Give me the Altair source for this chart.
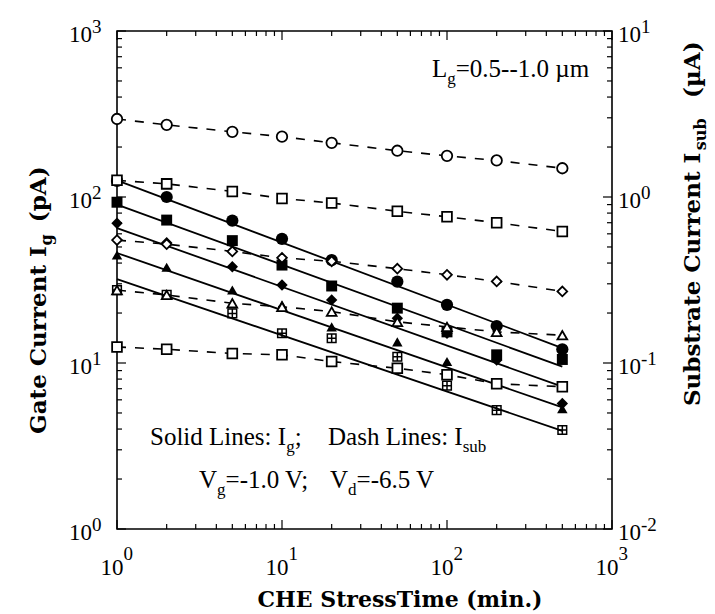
import altair as alt
import pandas as pd

# ---------------- data ----------------
x_min = [1, 2, 5, 10, 20, 50, 100, 200, 500]

# substrate current I_sub (uA), dashed lines with open markers
isub_circle = [2.95, 2.72, 2.47, 2.31, 2.12, 1.90, 1.77, 1.66, 1.49]
isub_square_hi = [1.26, 1.20, 1.08, 0.98, 0.92, 0.82, 0.76, 0.70, 0.62]
isub_diamond = [0.55, 0.52, 0.47, 0.43, 0.41, 0.37, 0.34, 0.31, 0.27]
isub_triangle = [0.275, 0.257, 0.229, 0.218, 0.204, 0.177, 0.165, 0.154, 0.147]
isub_square_lo = [0.125, 0.121, 0.114, 0.112, 0.102, 0.093, 0.085, 0.075, 0.072]

# gate current I_g (pA), solid lines with filled markers
ig_circle = [125, 100, 72, 56, 41.7, 30.9, 22.4, 16.7, 12.1]
ig_square = [93, 72.6, 54.6, 38.9, 29.1, 21.4, 15.4, 11.2, 10.5]
ig_diamond = [69.5, 53, 38, 29.5, 24, 18.6, 15.1, 10.4, 5.7]
ig_triangle = [44.7, 37.7, 27.5, 22.4, 16.5, 13.4, 10.2, 7.5, 5.3]
ig_crossbox = [27.5, 25.7, 19.9, 15.1, 14.1, 10.9, 7.3, 5.2, 3.95]

# fitted solid lines: values at t = 1 min and t = 500 min
fit_x = [1, 500]
fit_circle = [126, 12.3]
fit_square = [90, 9.5]
fit_diamond = [65, 7.2]
fit_triangle = [46, 5.4]
fit_crossbox = [32, 3.9]

# tick labels: "10" with a superscript exponent
x_ticks = [1, 10, 100, 1000]
x_sup = ["0", "1", "2", "3"]
yl_ticks = [1, 10, 100, 1000]
yl_sup = ["0", "1", "2", "3"]
yr_ticks = [0.01, 0.1, 1, 10]
yr_sup = ["-2", "-1", "0", "1"]

# ---------------- layout ----------------
W, H = 495, 498
PX0, PY0 = 117, 31
SERIF = "Liberation Serif"
BOLD = "DejaVu Serif"
LBL = 23      # tick label size
SUP = 19      # superscript size
ANN = 25      # annotation size
ANN_SUB = 17

xscale = alt.Scale(type="log", domain=[1, 1000], nice=False)
ylscale = alt.Scale(type="log", domain=[1, 1000], nice=False)
yrscale = alt.Scale(type="log", domain=[0.01, 10], nice=False)

X = lambda: alt.X("t:Q", scale=xscale, axis=None)
YL = lambda: alt.Y("v:Q", scale=ylscale, axis=None)
YR = lambda: alt.Y("v:Q", scale=yrscale, axis=None)

# ---- solid fitted lines + filled markers (left scale)
fits = [fit_circle, fit_square, fit_diamond, fit_triangle, fit_crossbox]
df_fit = pd.DataFrame([
    {"t": x, "v": v, "s": i}
    for i, f in enumerate(fits) for x, v in zip(fit_x, f)
])
solid = alt.Chart(df_fit).mark_line(color="black", strokeWidth=1.8).encode(
    x=X(), y=YL(), detail="s:N")

g_layers = []
for vals, shp, size in [(ig_circle, "circle", 150), (ig_square, "square", 120),
                        (ig_diamond, "diamond", 130), (ig_triangle, "triangle-up", 110)]:
    d = pd.DataFrame({"t": x_min, "v": vals})
    g_layers.append(alt.Chart(d).mark_point(
        filled=True, color="black", size=size, opacity=1, shape=shp).encode(x=X(), y=YL()))
g_layers.append(alt.Chart(pd.DataFrame({"t": x_min, "v": ig_crossbox})).mark_point(
    filled=False, color="black", strokeWidth=1.5, size=75, opacity=1,
    shape="M-1,-1L1,-1L1,1L-1,1Z M0,-1L0,1 M-1,0L1,0").encode(x=X(), y=YL()))

# ---- inward ticks on all four sides
minor_vals = [m * d for d in [1, 10, 100] for m in range(2, 10)]
major_vals = [1, 10, 100, 1000]
tick_layers = []
for vals, ln in [(minor_vals, 5), (major_vals, 9)]:
    d = pd.DataFrame({"t": vals, "v": vals})
    r = alt.Chart(d).mark_rule(color="black", strokeWidth=1.2)
    tick_layers += [
        r.encode(x=X(), y=alt.value(H), y2=alt.value(H - ln)),
        r.encode(x=X(), y=alt.value(0), y2=alt.value(ln)),
        r.encode(y=YL(), x=alt.value(0), x2=alt.value(ln)),
        r.encode(y=YL(), x=alt.value(W), x2=alt.value(W - ln)),
    ]

# ---- tick labels drawn through the scales
def tlab(df, enc, align, dx, dy, size):
    return alt.Chart(df).mark_text(align=align, baseline="alphabetic", font=SERIF,
                                   fontSize=size, color="black", dx=dx, dy=dy).encode(**enc)

dfx = pd.DataFrame({"t": x_ticks, "base": ["10"] * 4, "sup": x_sup})
dfl = pd.DataFrame({"v": yl_ticks, "base": ["10"] * 4, "sup": yl_sup})
dfr = pd.DataFrame({"v": yr_ticks, "base": ["10"] * 4, "sup": yr_sup})

label_layers_left = [
    tlab(dfx, dict(x=X(), y=alt.value(H + 46), text="base:N"), "center", -5, 0, LBL),
    tlab(dfx, dict(x=X(), y=alt.value(H + 31), text="sup:N"), "left", 6.5, 0, SUP),
    tlab(dfl, dict(y=YL(), x=alt.value(-25), text="base:N"), "right", 0, 11, LBL),
    tlab(dfl, dict(y=YL(), x=alt.value(-25), text="sup:N"), "left", 0, 2, SUP),
]
label_layers_right = [
    tlab(dfr, dict(y=YR(), x=alt.value(W + 6), text="base:N"), "left", 0, 11, LBL),
    tlab(dfr, dict(y=YR(), x=alt.value(W + 6 + 23), text="sup:N"), "left", 0, 2, SUP),
]

# ---- text helpers (page coordinates)
TIMES = {' ': 250, 'S': 556, 'o': 500, 'l': 278, 'i': 278, 'd': 500, 'L': 611, 'n': 500,
         'e': 444, 's': 389, ':': 278, 'I': 333, ';': 278, 'D': 722, 'a': 444, 'h': 500,
         'u': 500, 'b': 500, 'g': 500, 'V': 722, '=': 564, '-': 333, '1': 500, '0': 500,
         '.': 250, '6': 500, '5': 500, '\u00b5': 576, 'm': 778}
DVSB = {' ': 348, 'G': 821, 'a': 675, 't': 478, 'e': 678, 'C': 734, 'u': 712, 'r': 532,
        'n': 712, 'I': 468, 'g': 712, '(': 457, ')': 457, 'p': 712, 'A': 774, 'S': 720,
        'b': 712, 's': 595, '\u00b5': 712, 'H': 942, 'E': 733, 'T': 707, 'i': 374,
        'm': 1058, '.': 380}


def tw(s, size, table):
    return sum(table.get(c, 500) for c in s) * size / 1000.0


def txt(s, x, y, size, font=SERIF, weight="normal", angle=0, align="left"):
    return alt.Chart(pd.DataFrame({"txt": [s]})).mark_text(
        align=align, baseline="alphabetic", font=font, fontSize=size,
        fontWeight=weight, angle=angle, color="black",
    ).encode(x=alt.value(x - PX0), y=alt.value(y - PY0), text="txt:N")


def hrow(pieces, x, y, size=ANN, sub_size=ANN_SUB, sub_drop=7):
    out, cx = [], x
    for s, is_sub in pieces:
        if is_sub:
            out.append(txt(s, cx, y + sub_drop, sub_size))
            cx += tw(s, sub_size, TIMES)
        else:
            out.append(txt(s, cx, y, size))
            cx += tw(s, size, TIMES)
    return out


def vrow(pieces, xb, y0, size, sub_size, sub_shift, gap):
    """rotated bold title reading upward; xb = baseline x, y0 = start (bottom)"""
    out, cy = [], y0
    for s, kind in pieces:
        if kind == "sub":
            out.append(txt(s, xb + sub_shift, cy, sub_size, font=BOLD, weight="bold", angle=270))
            cy -= tw(s, sub_size, DVSB) + gap
        else:
            out.append(txt(s, xb, cy, size, font=BOLD, weight="bold", angle=270))
            cy -= tw(s, size, DVSB)
    return out


texts = []
texts.append(txt("CHE  StressTime  (min.)", 400, 607, 22, font=BOLD,
                 weight="bold", align="center"))
texts += vrow([("Gate Current I", "n"), ("g", "sub"), ("(pA)", "n")], 46, 434, 23, 16, 6, 12)
texts += vrow([("Substrate Current I", "n"), ("sub", "sub"), ("(\u00b5A)", "n")],
              700, 406, 23, 16, 6, 20)
texts += hrow([("L", False), ("g", True), ("=0.5--1.0 \u00b5m", False)], 432, 77)
texts += hrow([("Solid Lines: I", False), ("g", True), (";", False)], 150, 445)
texts += hrow([("Dash Lines: I", False), ("sub", True)], 328, 445)
texts += hrow([("V", False), ("g", True), ("=-1.0 V;", False)], 199, 488)
texts += hrow([("V", False), ("d", True), ("=-6.5 V", False)], 330, 488)

left = alt.layer(solid, *g_layers, *tick_layers, *label_layers_left, *texts)

# ---- dashed I_sub lines with open markers (right scale)
sub_vals = [isub_circle, isub_square_hi, isub_diamond, isub_triangle, isub_square_lo]
sub_shapes = ["circle", "square", "diamond", "triangle-up", "square"]
sub_sizes = [110, 95, 95, 95, 95]
df_sub = pd.DataFrame([
    {"t": x, "v": v, "s": i}
    for i, vals in enumerate(sub_vals) for x, v in zip(x_min, vals)
])
dashed = alt.Chart(df_sub).mark_line(color="black", strokeWidth=1.6, strokeDash=[9, 9]).encode(
    x=X(), y=YR(), detail="s:N")
open_layers = []
for vals, shp, size in zip(sub_vals, sub_shapes, sub_sizes):
    d = pd.DataFrame({"t": x_min, "v": vals})
    open_layers.append(alt.Chart(d).mark_point(
        filled=True, fill="white", stroke="black", strokeWidth=1.8, size=size,
        opacity=1, shape=shp).encode(x=X(), y=YR()))

right = alt.layer(dashed, *open_layers, *label_layers_right)

chart = alt.layer(left, right).resolve_scale(y="independent").properties(
    width=W, height=H,
    padding={"left": PX0, "top": PY0, "right": 715 - PX0 - W, "bottom": 614 - PY0 - H},
    autosize=alt.AutoSizeParams(type="none"),
    background="white",
).configure_view(stroke="black", strokeWidth=1.6)

chart.save("out.html", embed_options={"renderer": "svg", "actions": False})
